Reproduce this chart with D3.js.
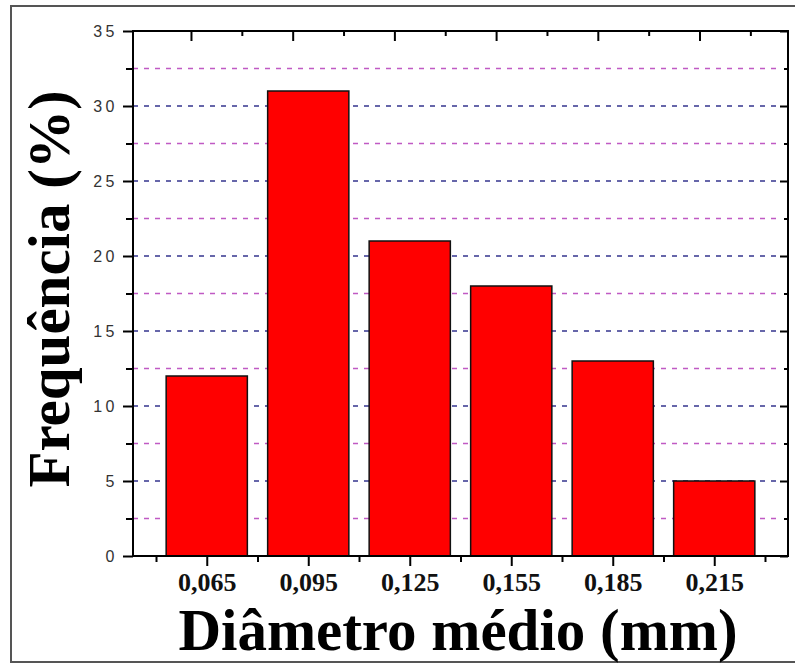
<!DOCTYPE html>
<html><head><meta charset="utf-8">
<script src="https://cdn.jsdelivr.net/npm/d3@7"></script>
<style>html,body{margin:0;padding:0;background:#fff;}svg{display:block;}</style>
</head><body>
<script>
// ---- data ----
const categories = [0.065, 0.095, 0.125, 0.155, 0.185, 0.215];
const categoryLabels = ["0,065", "0,095", "0,125", "0,155", "0,185", "0,215"];
const frequency = [12, 31, 21, 18, 13, 5];
const xMinorTicks = [0.05, 0.08, 0.11, 0.14, 0.17, 0.20, 0.23];
const yMajorTicks = [0, 5, 10, 15, 20, 25, 30, 35];
const yMinorTicks = [2.5, 7.5, 12.5, 17.5, 22.5, 27.5, 32.5];
const topMajorTicks = [0, 1, 2, 3, 4, 5];
const topMinorTicks = [0.5, 1.5, 2.5, 3.5, 4.5, 5.5];
const xTitle = "Diâmetro médio (mm)";
const yTitle = "Frequência (%)";

const W = 795, H = 663;
const L = 133, R = 788, T = 31, B = 556;
const svg = d3.select("body").append("svg").attr("width", W).attr("height", H);

svg.append("rect").attr("x", 11).attr("y", 6).attr("width", 800).attr("height", 656)
  .attr("fill", "none").attr("stroke", "#555").attr("stroke-width", 2);

const x = d3.scaleLinear().domain([0.0432, 0.2368]).range([L, R]);
const y = d3.scaleLinear().domain([0, 35]).range([B, T]);
const xTop = d3.scaleLinear().domain([-0.57, 5.87]).range([L, R]);
const barW = 0.024;

// gridlines
const gEnd = 776;
svg.append("g").selectAll("line").data(yMajorTicks.filter(d => d > 0 && d < 35)).join("line")
  .attr("x1", L).attr("x2", gEnd).attr("y1", d => y(d)).attr("y2", d => y(d))
  .attr("stroke", "#34348f").attr("stroke-width", 1.6).attr("stroke-dasharray", "5,6");
svg.append("g").selectAll("line").data(yMinorTicks).join("line")
  .attr("x1", L).attr("x2", gEnd).attr("y1", d => y(d)).attr("y2", d => y(d))
  .attr("stroke", "#c05ac4").attr("stroke-width", 1.6).attr("stroke-dasharray", "5,6");

// bars
svg.append("g").selectAll("rect").data(frequency).join("rect")
  .attr("x", (d, i) => x(categories[i] - barW / 2))
  .attr("width", (d, i) => x(categories[i] + barW / 2) - x(categories[i] - barW / 2))
  .attr("y", d => y(d)).attr("height", d => y(0) - y(d))
  .attr("fill", "#ff0000").attr("stroke", "#111").attr("stroke-width", 1.5);

// axes
const axStroke = (g) => { g.selectAll("path,line").attr("stroke", "#000").attr("stroke-width", 2); g.select(".domain").remove(); };

// bottom
const bottom = svg.append("g").attr("transform", `translate(0,${B})`);
bottom.call(d3.axisBottom(x).tickValues(categories).tickSize(10).tickFormat((d, i) => categoryLabels[i])).call(axStroke);
bottom.selectAll("text").attr("font-family", "'Liberation Serif','Times New Roman',serif")
  .style("font-size", "26px").attr("font-weight", "bold").attr("fill", "#111").attr("dy", null).attr("y", 35);
svg.append("g").attr("transform", `translate(0,${B})`)
  .call(d3.axisBottom(x).tickValues(xMinorTicks).tickSize(6).tickFormat("")).call(axStroke);

// top
svg.append("g").attr("transform", `translate(0,${T})`)
  .call(d3.axisBottom(xTop).tickValues(topMajorTicks).tickSize(10).tickFormat("")).call(axStroke);
svg.append("g").attr("transform", `translate(0,${T})`)
  .call(d3.axisBottom(xTop).tickValues(topMinorTicks).tickSize(5).tickFormat("")).call(axStroke);

// left
const left = svg.append("g").attr("transform", `translate(${L},0)`);
left.call(d3.axisLeft(y).tickValues(yMajorTicks).tickSize(10).tickPadding(5)).call(axStroke);
left.selectAll("text").attr("font-family", "'Liberation Sans',Arial,sans-serif")
  .style("font-size", "16px").attr("fill", "#333").attr("letter-spacing", 3.5);
svg.append("g").attr("transform", `translate(${L},0)`)
  .call(d3.axisLeft(y).tickValues(yMinorTicks).tickSize(7).tickFormat("")).call(axStroke);

// right
svg.append("g").attr("transform", `translate(${R},0)`)
  .call(d3.axisLeft(y).tickValues(yMajorTicks).tickSize(8).tickFormat("")).call(axStroke);
svg.append("g").attr("transform", `translate(${R},0)`)
  .call(d3.axisLeft(y).tickValues(yMinorTicks).tickSize(4).tickFormat("")).call(axStroke);

// frame lines
svg.append("rect").attr("x", L).attr("y", T).attr("width", R - L).attr("height", B - T)
  .attr("fill", "none").attr("stroke", "#000").attr("stroke-width", 2);

// titles
svg.append("text").attr("x", 458).attr("y", 650).attr("text-anchor", "middle")
  .attr("font-family", "'Liberation Serif','Times New Roman',serif").attr("font-weight", "bold")
  .style("font-size", "59px").attr("fill", "#000").text(xTitle);
svg.append("text").attr("transform", "translate(69,289) rotate(-90)").attr("text-anchor", "middle")
  .attr("font-family", "'Liberation Serif','Times New Roman',serif").attr("font-weight", "bold")
  .style("font-size", "59px").attr("fill", "#000").text(yTitle);
</script>
</body></html>
